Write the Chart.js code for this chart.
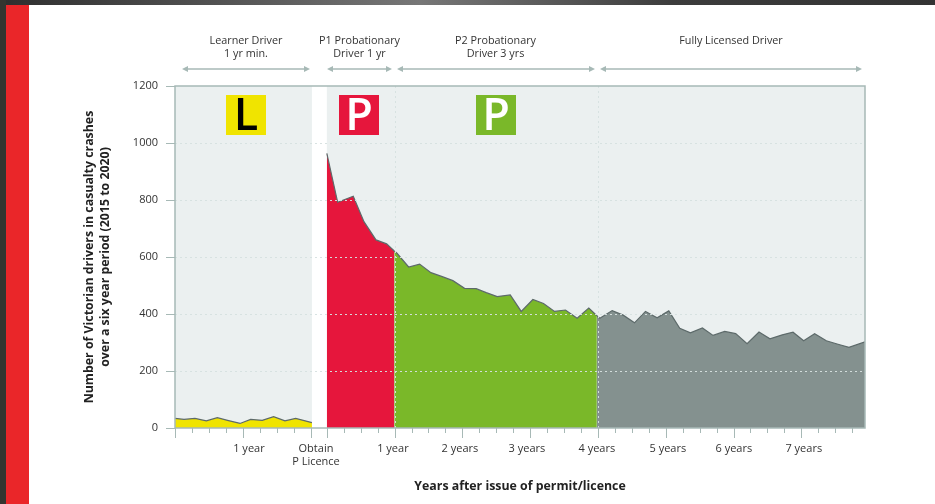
<!DOCTYPE html>
<html>
<head>
<meta charset="utf-8">
<title>Casualty crashes by licence stage</title>
<script src="https://cdn.jsdelivr.net/npm/chart.js@4/dist/chart.umd.min.js"></script>
<style>
html, body { margin: 0; padding: 0; background: #fff; overflow: hidden; }
#wrap { position: relative; width: 935px; height: 504px; }
#top { position: absolute; left: 0; top: 0; width: 935px; height: 5px; background: linear-gradient(90deg, #2e2e2e 0%, #555 25%, #777 45%, #3c3c3c 72%, #333 100%); }
#edge { position: absolute; left: 0; top: 0; width: 6px; height: 504px; background: #343530; }
#red { position: absolute; left: 6px; top: 5px; width: 23px; height: 499px; background: #ea2629; }
canvas { position: absolute; left: 0; top: 0; }
</style>
</head>
<body>
<div id="wrap">
<div id="top"></div><div id="edge"></div><div id="red"></div>
<canvas id="crashes" width="935" height="504"></canvas>
</div>
<script>
// x values are years along the axis, the P stages start at pStart
var pStart = 2.24;

var learnerX = [0, 0.133, 0.295, 0.462, 0.624, 0.79, 0.959, 1.116, 1.287, 1.455, 1.622, 1.78, 2.02];
var learnerY = [34, 30, 34, 25, 36, 26, 16, 30, 27, 40, 25, 34, 19];

var p1X = [2.24, 2.4, 2.63, 2.788, 2.965, 3.122, 3.235];
var p1Y = [964, 792, 813, 724, 660, 646, 621];

var p2X = [3.235, 3.275, 3.447, 3.609, 3.776, 3.943, 4.1, 4.272, 4.444, 4.592, 4.754, 4.946, 5.108, 5.28, 5.437, 5.599, 5.761, 5.933, 6.105, 6.224];
var p2Y = [621, 613, 565, 575, 545, 531, 517, 490, 489, 475, 461, 467, 409, 451, 437, 409, 414, 385, 421, 394];

var fullX = [6.224, 6.268, 6.45, 6.612, 6.779, 6.941, 7.113, 7.285, 7.447, 7.604, 7.781, 7.938, 8.11, 8.272, 8.44, 8.616, 8.778, 8.96, 9.118, 9.275, 9.437, 9.609, 9.781, 9.943, 10.18];
var fullY = [394, 385, 412, 396, 369, 409, 387, 411, 350, 334, 351, 325, 339, 331, 296, 337, 313, 327, 336, 306, 331, 306, 294, 283, 302];

var xLabels = ['1 year', ['Obtain', 'P Licence'], '1 year', '2 years', '3 years', '4 years', '5 years', '6 years', '7 years'];
var xLabelPos = [1.091, 2.08, 3.215, 4.204, 5.192, 6.224, 7.271, 8.245, 9.277];
var yTicks = [0, 200, 400, 600, 800, 1000, 1200];

var stages = [
    { lines: ['Learner Driver', '1 yr min.'], from: 182, to: 310, mid: 246 },
    { lines: ['P1 Probationary', 'Driver 1 yr'], from: 327, to: 392, mid: 359.5 },
    { lines: ['P2 Probationary', 'Driver 3 yrs'], from: 397, to: 595, mid: 495.5 },
    { lines: ['Fully Licensed Driver'], from: 600, to: 862, mid: 731 }
];
var plates = [
    { text: 'L', x: 226, bg: '#f0e400', fg: '#000' },
    { text: 'P', x: 339, bg: '#e6163c', fg: '#fff' },
    { text: 'P', x: 476, bg: '#7ab829', fg: '#fff' }
];

var frameColor = '#a7b9b6';
var dotColor = 'rgba(214, 224, 223, 0.95)';
var font = '"Open Sans", sans-serif';

function pts(xs, ys) {
    return xs.map(function (x, i) { return { x: x, y: ys[i] }; });
}

function stage(data, color) {
    return {
        data: data,
        backgroundColor: color,
        borderColor: '#5d6a6a',
        borderWidth: 1.2,
        fill: 'origin',
        pointRadius: 0,
        tension: 0
    };
}

var decorations = {
    id: 'decorations',
    beforeDraw: function (chart) {
        var c = chart.ctx, a = chart.chartArea, x = chart.scales.x;
        c.save();
        c.fillStyle = '#ebf0f0';
        c.fillRect(a.left, a.top, a.right - a.left, a.bottom - a.top);
        c.fillStyle = '#fff';
        c.fillRect(x.getPixelForValue(2.02), a.top, x.getPixelForValue(pStart) - x.getPixelForValue(2.02), a.bottom - a.top);
        c.restore();
    },
    afterDatasetsDraw: function (chart) {
        var c = chart.ctx, a = chart.chartArea, x = chart.scales.x;
        c.save();
        // dotted year lines
        c.strokeStyle = dotColor;
        c.lineWidth = 1;
        c.setLineDash([2, 3]);
        [pStart + 1, pStart + 4].forEach(function (v) {
            var px = Math.round(x.getPixelForValue(v)) + 0.5;
            c.beginPath(); c.moveTo(px, a.top); c.lineTo(px, a.bottom); c.stroke();
        });
        c.setLineDash([]);
        // plates
        plates.forEach(function (p) {
            c.fillStyle = p.bg;
            c.fillRect(p.x, 95, 40, 40);
            c.fillStyle = p.fg;
            c.font = '600 45px ' + font;
            c.textAlign = 'center';
            c.textBaseline = 'alphabetic';
            c.fillText(p.text, p.x + 20, 130);
        });
        c.restore();
    },
    afterDraw: function (chart) {
        var c = chart.ctx, a = chart.chartArea, x = chart.scales.x;
        var i, px;
        c.save();
        // frame
        c.strokeStyle = frameColor;
        c.lineWidth = 1.5;
        c.strokeRect(a.left, a.top, a.right - a.left, a.bottom - a.top);
        // x tick marks, quarter years
        var marks = [];
        for (i = 0; i <= 8; i++) marks.push({ v: i * 0.25, major: i % 4 === 0 });
        for (i = 0; i <= 31; i++) marks.push({ v: pStart + i * 0.25, major: i % 4 === 0 });
        c.lineWidth = 1;
        marks.forEach(function (m) {
            px = Math.round(x.getPixelForValue(m.v)) + 0.5;
            c.beginPath();
            c.moveTo(px, a.bottom);
            c.lineTo(px, a.bottom + (m.major ? 10 : 5));
            c.stroke();
        });
        // stage headers with arrows
        c.font = '10.8px ' + font;
        c.textAlign = 'center';
        c.textBaseline = 'middle';
        stages.forEach(function (s) {
            c.fillStyle = '#333';
            s.lines.forEach(function (t, n) { c.fillText(t, s.mid, 41 + n * 13); });
            c.strokeStyle = frameColor;
            c.fillStyle = frameColor;
            c.lineWidth = 1.5;
            c.beginPath(); c.moveTo(s.from + 3, 69); c.lineTo(s.to - 3, 69); c.stroke();
            c.beginPath(); c.moveTo(s.from, 69); c.lineTo(s.from + 6, 66); c.lineTo(s.from + 6, 72); c.closePath(); c.fill();
            c.beginPath(); c.moveTo(s.to, 69); c.lineTo(s.to - 6, 66); c.lineTo(s.to - 6, 72); c.closePath(); c.fill();
        });
        c.restore();
    }
};

var ctx = document.getElementById('crashes').getContext('2d');

var myChart = new Chart(ctx, {
    type: 'line',
    data: {
        datasets: [
            stage(pts(learnerX, learnerY), '#f0e400'),
            stage(pts(p1X, p1Y), '#e6163c'),
            stage(pts(p2X, p2Y), '#7ab829'),
            stage(pts(fullX, fullY), '#84918f')
        ]
    },
    plugins: [decorations],
    options: {
        responsive: false,
        animation: false,
        layout: { padding: { top: 86, right: 70, left: 0, bottom: 0 } },
        plugins: { legend: { display: false }, tooltip: { enabled: false } },
        scales: {
            x: {
                type: 'linear',
                min: 0,
                max: 10.18,
                afterFit: function (scale) { scale.height = 76; },
                afterBuildTicks: function (scale) {
                    scale.ticks = xLabelPos.map(function (v) { return { value: v }; });
                },
                grid: { display: false, drawTicks: false },
                border: { display: false },
                ticks: {
                    autoSkip: false,
                    maxRotation: 0,
                    padding: 14,
                    color: '#333',
                    font: { family: font, size: 11, lineHeight: 1.2 },
                    callback: function (value, index) { return xLabels[index]; }
                },
                title: {
                    display: true,
                    text: 'Years after issue of permit/licence',
                    color: '#222',
                    font: { family: font, size: 12.35, weight: '700' },
                    padding: { top: 0, bottom: 10 }
                }
            },
            y: {
                min: 0,
                max: 1200,
                afterFit: function (scale) { scale.width = 175; },
                afterBuildTicks: function (scale) {
                    scale.ticks = yTicks.map(function (v) { return { value: v }; });
                },
                grid: {
                    z: 1,
                    tickLength: 9,
                    tickColor: frameColor,
                    tickWidth: 1,
                    lineWidth: 1,
                    color: function (c) {
                        return (c.tick && (c.tick.value === 0 || c.tick.value === 1200)) ? 'rgba(0,0,0,0)' : dotColor;
                    }
                },
                border: { display: false, dash: [2, 3] },
                ticks: {
                    padding: 8,
                    color: '#333',
                    font: { family: font, size: 11 },
                    callback: function (value) { return String(value); }
                },
                title: {
                    display: true,
                    text: ['Number of Victorian drivers in casualty crashes', 'over a six year period (2015 to 2020)'],
                    color: '#222',
                    font: { family: font, size: 12.35, weight: '700', lineHeight: 1.3 },
                    padding: { top: 81, bottom: 0 }
                }
            }
        }
    }
});
</script>
</body>
</html>
